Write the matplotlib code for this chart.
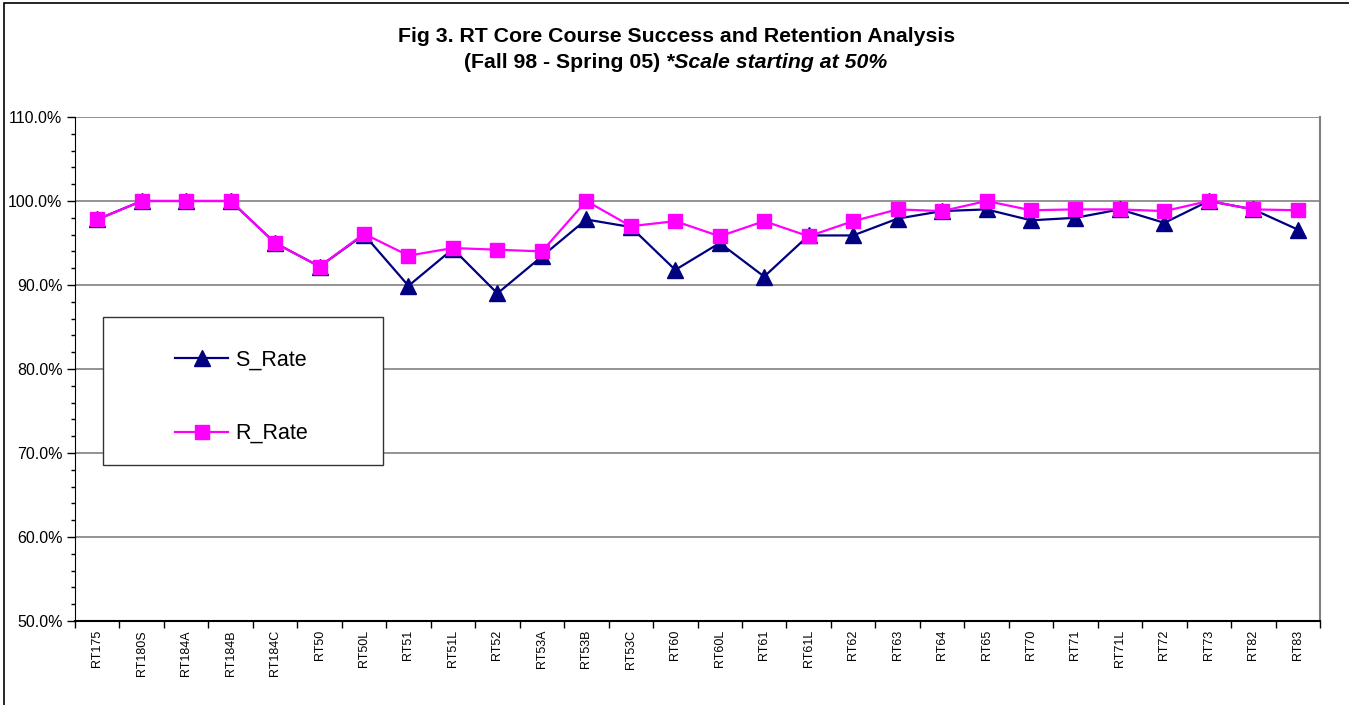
#!/usr/bin/env python3
"""RT core course success / retention rates, Fall 98 - Spring 05."""

import matplotlib

matplotlib.use("Agg")
import matplotlib.pyplot as plt
import numpy as np
from matplotlib.lines import Line2D
from matplotlib.patches import Rectangle
from matplotlib.ticker import FuncFormatter, MultipleLocator


COURSES = [
    "RT175", "RT180S", "RT184A", "RT184B", "RT184C", "RT50", "RT50L",
    "RT51", "RT51L", "RT52", "RT53A", "RT53B", "RT53C", "RT60", "RT60L",
    "RT61", "RT61L", "RT62", "RT63", "RT64", "RT65", "RT70", "RT71",
    "RT71L", "RT72", "RT73", "RT82", "RT83",
]

S_RATE = [
    97.8, 100.0, 100.0, 100.0, 95.0, 92.2, 96.0,
    89.9, 94.3, 89.0, 93.4, 97.8, 96.9, 91.8, 95.0,
    91.0, 95.9, 95.9, 97.9, 98.8, 99.0, 97.7, 98.0,
    99.0, 97.4, 100.0, 99.0, 96.6,
]

R_RATE = [
    97.8, 100.0, 100.0, 100.0, 95.0, 92.2, 96.1,
    93.5, 94.4, 94.2, 94.0, 100.0, 97.0, 97.6, 95.8,
    97.6, 95.8, 97.6, 99.0, 98.8, 100.0, 98.9, 99.0,
    99.0, 98.8, 100.0, 99.0, 98.9,
]

Y_TICKS = [50, 60, 70, 80, 90, 100, 110]

NAVY = "#000080"
MAGENTA = "#FF00FF"
GRID_GRAY = "#808080"

W, H = 1349, 705


def px_x(x):
    return x / W


def px_y(y):
    return 1 - y / H


def main():
    plt.rcParams["font.family"] = ["Liberation Sans", "DejaVu Sans"]

    fig = plt.figure(figsize=(W / 100, H / 100), dpi=100)
    fig.patch.set_facecolor("white")

    # outer chart frame (only left/top edges fall inside the image)
    fig.add_artist(Rectangle((px_x(4), -0.1), 1.2, px_y(3) + 0.1,
                             transform=fig.transFigure, fill=False,
                             edgecolor="black", linewidth=1.2))

    ax = fig.add_axes([px_x(75), px_y(621), px_x(1320) - px_x(75), px_y(117) - px_y(621)])
    x = np.arange(len(COURSES))

    ax.plot(x, S_RATE, color=NAVY, linewidth=1.6, marker="^", markersize=11,
            markerfacecolor=NAVY, markeredgecolor=NAVY, zorder=3, label="S_Rate")
    ax.plot(x, R_RATE, color=MAGENTA, linewidth=1.6, marker="s", markersize=10,
            markerfacecolor=MAGENTA, markeredgecolor=MAGENTA, zorder=4, label="R_Rate")

    ax.set_xlim(-0.5, len(COURSES) - 0.5)
    ax.set_ylim(Y_TICKS[0], Y_TICKS[-1])

    ax.set_yticks(Y_TICKS)
    ax.yaxis.set_minor_locator(MultipleLocator(2))
    ax.yaxis.set_major_formatter(FuncFormatter(lambda v, _: f"{v:.1f}%"))
    ax.tick_params(axis="y", which="major", direction="out", length=6, width=1,
                   labelsize=11.5, pad=3, colors="black")
    ax.tick_params(axis="y", which="minor", direction="out", length=3, width=1)

    ax.set_xticks(np.arange(len(COURSES) + 1) - 0.5)
    ax.set_xticklabels([])
    ax.set_xticks(x, minor=True)
    ax.set_xticklabels(COURSES, minor=True, rotation=90, fontsize=9)
    ax.tick_params(axis="x", which="major", direction="out", length=5, width=1)
    ax.tick_params(axis="x", which="minor", length=0, pad=6.4)

    for y in Y_TICKS[1:]:
        ax.axhline(y, color=GRID_GRAY, linewidth=1.2, zorder=1)

    ax.spines["left"].set_color("black")
    ax.spines["bottom"].set_color("black")
    ax.spines["bottom"].set_linewidth(1.5)
    ax.spines["top"].set_visible(False)
    ax.spines["right"].set_color(GRID_GRAY)
    ax.spines["right"].set_linewidth(1.5)

    # legend box
    fig.add_artist(Rectangle((px_x(103), px_y(465)), px_x(383) - px_x(103),
                             px_y(317) - px_y(465), transform=fig.transFigure,
                             facecolor="white", edgecolor="#333333",
                             linewidth=1.0, zorder=5))
    handles = [
        Line2D([], [], color=NAVY, linewidth=1.6, marker="^", markersize=11),
        Line2D([], [], color=MAGENTA, linewidth=1.6, marker="s", markersize=10),
    ]
    leg = fig.legend(handles, ["S_Rate", "R_Rate"], loc="upper left",
                     bbox_to_anchor=(px_x(158), px_y(332)), frameon=False,
                     fontsize=15.5, handlelength=2.46, handletextpad=0.33,
                     labelspacing=2.46, borderpad=0.3)
    leg.set_zorder(6)

    # title
    fig.text(0.5013, px_y(37), "Fig 3. RT Core Course Success and Retention Analysis",
             ha="center", va="center", fontsize=15.3, fontweight="bold")
    part1 = fig.text(0, px_y(63), "(Fall 98 - Spring 05) ", ha="left", va="center",
                     fontsize=15.3, fontweight="bold")
    part2 = fig.text(0, px_y(63), "*Scale starting at 50%", ha="left", va="center",
                     fontsize=15.3, fontweight="bold", fontstyle="italic")
    renderer = fig.canvas.get_renderer()
    w1 = part1.get_window_extent(renderer).width
    w2 = part2.get_window_extent(renderer).width
    start = 676 - (w1 + w2) / 2
    part1.set_x(px_x(start))
    part2.set_x(px_x(start + w1))

    fig.savefig("out.png", dpi=100, facecolor="white")
    plt.close(fig)


if __name__ == "__main__":
    main()
